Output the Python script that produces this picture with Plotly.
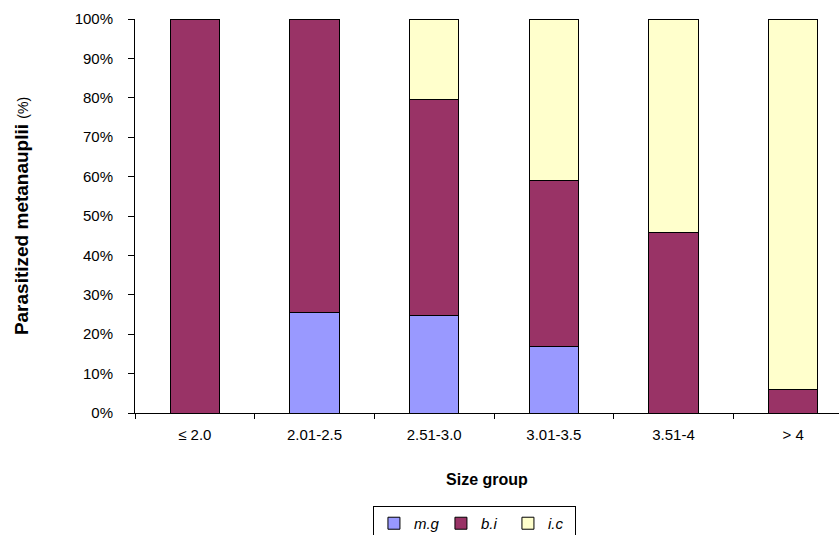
import plotly.graph_objects as go

categories = ["≤ 2.0", "2.01-2.5", "2.51-3.0", "3.01-3.5", "3.51-4", "> 4"]
mg = [0, 25.5, 24.7, 17.0, 0, 0]
bi = [100, 74.5, 54.9, 42.0, 45.8, 6.0]
ic = [0, 0, 20.4, 41.0, 54.2, 94.0]
series_names = ["m.g", "b.i", "i.c"]
colors = ["#9999FF", "#993366", "#FFFFCC"]
y_ticks = list(range(0, 101, 10))
y_ticktext = [f"{v}%" for v in y_ticks]

fig = go.Figure()
for name, vals, col in zip(series_names, [mg, bi, ic], colors):
    fig.add_trace(go.Bar(
        x=categories, y=vals, name=name,
        marker=dict(color=col, line=dict(color="#000000", width=1)),
    ))

font_family = "Liberation Sans, Arial, sans-serif"
fig.update_layout(
    barmode="stack",
    bargap=0.59,
    width=839, height=535,
    margin=dict(l=135, r=0, t=19, b=122, autoexpand=False),
    plot_bgcolor="white", paper_bgcolor="white",
    font=dict(family=font_family, size=15, color="black"),
    legend=dict(
        orientation="h",
        x=0.338, y=-0.236, xanchor="left", yanchor="top",
        bordercolor="black", borderwidth=1,
        font=dict(family=font_family, size=15, style="italic"),
        traceorder="normal",
        entrywidth=22,
    ),
)
fig.update_xaxes(
    type="category",
    range=[-0.5, 5.383],
    automargin=False,
    showline=True, linecolor="black", linewidth=1,
    ticks="outside", ticklen=5, tickcolor="black",
    tickson="boundaries",
    ticklabelstandoff=8,
    showgrid=False,
    title=dict(text="<b>Size group</b>", font=dict(size=16), standoff=31),
)
fig.update_yaxes(
    range=[0, 100],
    automargin=False,
    tickmode="array",
    tickvals=y_ticks,
    ticktext=y_ticktext,
    showline=True, linecolor="black", linewidth=1,
    ticks="outside", ticklen=6, tickcolor="black",
    ticklabelstandoff=12,
    showgrid=False, zeroline=False,
    title=dict(text="<b>Parasitized metanauplii</b> <span style='font-size:14px'>(%)</span>",
               font=dict(size=19), standoff=40),
)

fig.write_html("out.html")
